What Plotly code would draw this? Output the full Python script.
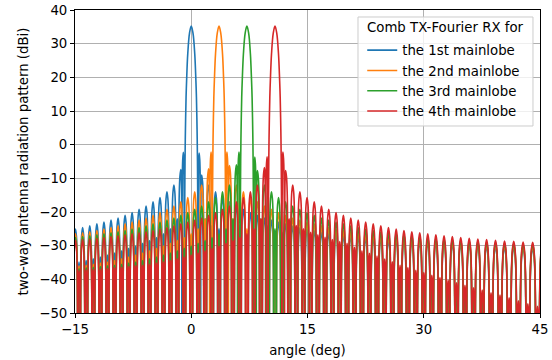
import plotly.graph_objects as go

# ---------------- data ----------------
# lobe-grid angles (deg), shared by all four patterns
angle_grid = [
    -15.404, -14.940, -14.478, -14.016, -13.555, -13.095, -12.636, -12.177, -11.720, -11.263,
    -10.807, -10.352, -9.897, -9.443, -8.989, -8.536, -8.084, -7.632, -7.181, -6.730,
    -6.279, -5.829, -5.379, -4.930, -4.481, -4.032, -3.583, -3.135, -2.687, -2.239,
    -1.791, -1.343, -0.895, -0.448,
    0.0,
    0.448, 0.895, 1.343, 1.791, 2.239, 2.687, 3.135, 3.583, 4.032, 4.481,
    4.930, 5.379, 5.829, 6.279, 6.730, 7.181, 7.632, 8.084, 8.536, 8.989,
    9.443, 9.897, 10.352, 10.807, 11.263, 11.720, 12.177, 12.636, 13.095, 13.555,
    14.016, 14.478, 14.940, 15.404, 15.869, 16.335, 16.802, 17.270, 17.739, 18.210,
    18.682, 19.155, 19.629, 20.105, 20.583, 21.062, 21.542, 22.024, 22.508, 22.993,
    23.480, 23.970, 24.460, 24.953, 25.448, 25.944, 26.443, 26.944, 27.448, 27.953,
    28.461, 28.971, 29.484, 30.000, 30.518, 31.039, 31.563, 32.090, 32.620, 33.153,
    33.689, 34.229, 34.772, 35.318, 35.869, 36.424, 36.982, 37.544, 38.111, 38.682,
    39.258, 39.839, 40.424, 41.015, 41.610, 42.212, 42.819, 43.433, 44.053, 44.678,
    45.311,
]

# sidelobe peak levels (dBi) on the grid; None = inside the mainlobe
blue_db = [
    -35.2, -25.1, -34.9, -24.6, -34.4, -24.1, -33.9, -23.5, -33.4, -23.0,
    -32.8, -22.4, -32.2, -21.8, -31.5, -21.0, -30.8, -20.2, -30.1, -19.2,
    -29.3, -18.2, -28.5, -17.0, -27.6, -15.7, -26.5, -14.0, -25.0, -12.0,
    -22.0, -7.4, None, None,
    None,
    None, None, -9.0, -22.0, -12.0, -24.0, -14.0, -25.0, -15.7, -26.0,
    -17.0, -26.8, -18.2, -27.5, -19.2, -28.2, -20.2, -28.8, -21.0, -29.3,
    -21.8, -30.5, -22.4, -31.5, -23.0, -32.3, -23.5, -33.1, -24.1, -34.0,
    -24.6, -34.8, -25.1, -35.8, -25.5, -36.5, -25.9, -37.3, -26.2, -38.0,
    -26.5, -38.8, -26.8, -39.5, -27.1, -40.3, -27.3, -41.0, -27.6, -41.8,
    -27.8, -42.5, -28.0, -43.2, -28.2, -44.0, -28.4, -44.7, -28.6, -45.5,
    -28.7, -46.4, -28.9, -47.3, -29.0, -48.0, -29.2, -48.8, -29.3, -49.5,
    -29.5, -50.2, -29.6, -51.0, -29.8, -51.7, -29.9, -52.5, -30.1, -53.2,
    -30.2, -54.0, -30.4, -54.7, -30.5, -55.5, -30.7, -56.2, -30.8, -57.0,
    -31.0,
]

orange_db = [
    -36.2, -26.5, -36.0, -26.2, -35.8, -25.9, -35.5, -25.5, -35.2, -25.1,
    -34.9, -24.6, -34.4, -24.1, -33.9, -23.5, -33.4, -23.0, -32.8, -22.4,
    -32.2, -21.8, -31.5, -21.0, -30.8, -20.2, -30.1, -19.2, -29.3, -18.2,
    -28.5, -17.0, -27.6, -15.7,
    -26.5,
    -14.0, -25.0, -12.0, -22.0, -7.2, None, None, None, None, None,
    -6.2, -22.0, -12.0, -24.0, -14.0, -25.0, -15.7, -26.0, -17.0, -26.8,
    -18.2, -27.5, -19.2, -28.2, -20.2, -28.8, -21.0, -29.3, -21.8, -30.5,
    -22.4, -31.5, -23.0, -32.3, -23.5, -33.1, -24.1, -34.0, -24.6, -34.8,
    -25.1, -35.8, -25.5, -36.5, -25.9, -37.3, -26.2, -38.0, -26.5, -38.8,
    -26.8, -39.5, -27.1, -40.3, -27.3, -41.0, -27.6, -41.8, -27.8, -42.5,
    -28.0, -43.2, -28.2, -44.0, -28.4, -44.7, -28.6, -45.5, -28.7, -46.4,
    -28.9, -47.3, -29.0, -48.0, -29.2, -48.8, -29.3, -49.5, -29.5, -50.2,
    -29.6, -51.0, -29.8, -51.7, -29.9, -52.5, -30.1, -53.2, -30.2, -54.0,
    -30.4,
]

green_db = [
    -37.0, -27.6, -36.8, -27.3, -36.6, -27.1, -36.4, -26.8, -36.2, -26.5,
    -36.0, -26.2, -35.8, -25.9, -35.5, -25.5, -35.2, -25.1, -34.9, -24.6,
    -34.4, -24.1, -33.9, -23.5, -33.4, -23.0, -32.8, -22.4, -32.2, -21.8,
    -31.5, -21.0, -30.8, -20.2,
    -30.1,
    -19.2, -29.3, -18.2, -28.5, -17.0, -27.6, -15.7, -26.5, -14.0, -25.0,
    -12.0, -22.0, -6.0, None, None, None, None, None, -7.7, -22.0,
    -12.0, -24.0, -14.0, -25.0, -15.7, -26.0, -17.0, -26.8, -18.2, -27.5,
    -19.2, -28.2, -20.2, -28.8, -21.0, -29.3, -21.8, -30.5, -22.4, -31.5,
    -23.0, -32.3, -23.5, -33.1, -24.1, -34.0, -24.6, -34.8, -25.1, -35.8,
    -25.5, -36.5, -25.9, -37.3, -26.2, -38.0, -26.5, -38.8, -26.8, -39.5,
    -27.1, -40.3, -27.3, -41.0, -27.6, -41.8, -27.8, -42.5, -28.0, -43.2,
    -28.2, -44.0, -28.4, -44.7, -28.6, -45.5, -28.7, -46.4, -28.9, -47.3,
    -29.0, -48.0, -29.2, -48.8, -29.3, -49.5, -29.5, -50.2, -29.6, -51.0,
    -29.8,
]

red_db = [
    -37.4, -28.4, -37.3, -28.2, -37.2, -28.0, -37.1, -27.8, -37.0, -27.6,
    -36.8, -27.3, -36.6, -27.1, -36.4, -26.8, -36.2, -26.5, -36.0, -26.2,
    -35.8, -25.9, -35.5, -25.5, -35.2, -25.1, -34.9, -24.6, -34.4, -24.1,
    -33.9, -23.5, -33.4, -23.0,
    -32.8,
    -22.4, -32.2, -21.8, -31.5, -21.0, -30.8, -20.2, -30.1, -19.2, -29.3,
    -18.2, -28.5, -17.0, -27.6, -15.7, -26.5, -14.0, -25.0, -12.0, -22.0,
    -6.8, None, None, None, None, None, -7.7, -22.0, -12.0, -24.0,
    -14.0, -25.0, -15.7, -26.0, -17.0, -26.8, -18.2, -27.5, -19.2, -28.2,
    -20.2, -28.8, -21.0, -29.3, -21.8, -30.5, -22.4, -31.5, -23.0, -32.3,
    -23.5, -33.1, -24.1, -34.0, -24.6, -34.8, -25.1, -35.8, -25.5, -36.5,
    -25.9, -37.3, -26.2, -38.0, -26.5, -38.8, -26.8, -39.5, -27.1, -40.3,
    -27.3, -41.0, -27.6, -41.8, -27.8, -42.5, -28.0, -43.2, -28.2, -44.0,
    -28.4, -44.7, -28.6, -45.5, -28.7, -46.4, -28.9, -47.3, -29.0, -48.0,
    -29.2,
]

series_names = ["the 1st mainlobe", "the 2nd mainlobe", "the 3rd mainlobe", "the 4th mainlobe"]
mainlobe_center = [0.0, 3.583, 7.181, 10.807]
first_sidelobe_db = [[-2.3, -2.5], [-2.2, -2.2], [-2.2, -3.7], [-3.6, -2.2]]
first_sidelobe_offset = 1.02
mainlobe_offset = [-0.9, -0.85, -0.8, -0.75, -0.67, -0.6, -0.45, -0.22, 0.0,
                   0.22, 0.45, 0.6, 0.67, 0.75, 0.8, 0.85, 0.9]
mainlobe_db = [-75, -20, -4.3, 4.6, 14, 19, 27, 33.2, 35.2,
               33.2, 27, 19, 14, 4.6, -4.3, -20, -75]
# shape of one sidelobe: fraction of the way to its null, and drop below its peak (dB)
lobe_frac = [0.4, 0.7, 0.88]
lobe_drop_db = [2.0, 7.0, 18.0]
null_db = -75

x_ticks = [-15, 0, 15, 30, 45]
y_ticks = [-50, -40, -30, -20, -10, 0, 10, 20, 30, 40]

legend_title = "Comb TX-Fourier RX for"
colors = ["#1f77b4", "#ff7f0e", "#2ca02c", "#d62728"]
FONT = "DejaVu Sans"


def build(levels, center, fsl):
    # ordered elements: ("lobe", angle, level) or ("main", center)
    elems = [("lobe", a, v) for a, v in zip(angle_grid, levels) if v is not None]
    elems.append(("lobe", center - first_sidelobe_offset, fsl[0]))
    elems.append(("lobe", center + first_sidelobe_offset, fsl[1]))
    elems.append(("main", center, None))
    elems.sort(key=lambda e: e[1])
    main_lo = center + mainlobe_offset[0]
    main_hi = center + mainlobe_offset[-1]

    # null positions between neighbours
    nulls = []
    for e1, e2 in zip(elems[:-1], elems[1:]):
        if e2[0] == "main":
            nulls.append(main_lo)
        elif e1[0] == "main":
            nulls.append(main_hi)
        else:
            w = 0.5 + max(-0.15, min(0.15, (e1[2] - e2[2]) / 60.0))
            nulls.append(e1[1] + w * (e2[1] - e1[1]))

    xs, ys = [], []
    n = len(elems)
    for i, e in enumerate(elems):
        if e[0] == "main":
            for o, v in zip(mainlobe_offset, mainlobe_db):
                xs.append(center + o)
                ys.append(v)
            continue
        a, v = e[1], e[2]
        nl = nulls[i - 1] if i > 0 else a - (nulls[0] - a)
        nr = nulls[i] if i < n - 1 else a + (a - nulls[-1])
        if i == 0:
            xs.append(nl)
            ys.append(null_db)
        for f, d in zip(reversed(lobe_frac), reversed(lobe_drop_db)):
            xs.append(a - f * (a - nl))
            ys.append(v - d)
        xs.append(a)
        ys.append(v)
        for f, d in zip(lobe_frac, lobe_drop_db):
            xs.append(a + f * (nr - a))
            ys.append(v - d)
        if i == n - 1 or elems[i + 1][0] != "main":
            xs.append(nr)
            ys.append(null_db)
    return xs, ys


fig = go.Figure()
for name, lv, c, fsl, col in zip(series_names, [blue_db, orange_db, green_db, red_db],
                                 mainlobe_center, first_sidelobe_db, colors):
    xs, ys = build(lv, c, fsl)
    fig.add_trace(go.Scatter(x=xs, y=ys, mode="lines", name=name,
                             line=dict(color=col, width=1.6, shape="spline", simplify=False)))

axis_common = dict(showline=True, linecolor="black", linewidth=1, mirror=True,
                   ticks="outside", ticklen=4, tickwidth=1, tickcolor="black",
                   showgrid=True, gridcolor="#b0b0b0", gridwidth=1, zeroline=False,
                   automargin=False,
                   tickfont=dict(family=FONT, size=13.3, color="black"))

# legend frame in paper coordinates of the plot area
box_x0, box_x1, box_y0, box_y1 = 0.6086, 0.9849, 0.6172, 0.9769

fig.update_layout(
    width=552, height=360,
    margin=dict(l=75, r=12, t=10, b=47),
    paper_bgcolor="white", plot_bgcolor="white",
    font=dict(family=FONT, size=13.3, color="black"),
    xaxis=dict(range=[-15, 45], tickvals=x_ticks,
               title=dict(text="angle (deg)", font=dict(family=FONT, size=13.3), standoff=9),
               **axis_common),
    yaxis=dict(range=[-50, 40], tickvals=y_ticks,
               title=dict(text="two-way antenna radiation pattern (dBi)",
                          font=dict(family=FONT, size=13.3), standoff=7),
               **axis_common),
    shapes=[dict(type="rect", xref="paper", yref="paper",
                 x0=box_x0, x1=box_x1, y0=box_y0, y1=box_y1,
                 line=dict(color="#cccccc", width=1),
                 fillcolor="rgba(255,255,255,0.8)", layer="above")],
    annotations=[dict(text=legend_title, xref="paper", yref="paper",
                      x=(box_x0 + box_x1) / 2, y=0.9406, xanchor="center", yanchor="middle",
                      showarrow=False, font=dict(family=FONT, size=13.3, color="black"))],
    legend=dict(x=0.6177, y=0.9175, xanchor="left", yanchor="top",
                bgcolor="rgba(0,0,0,0)", borderwidth=0, tracegroupgap=0,
                font=dict(family=FONT, size=13.3)),
    showlegend=True,
)

fig.write_html("out.html")
